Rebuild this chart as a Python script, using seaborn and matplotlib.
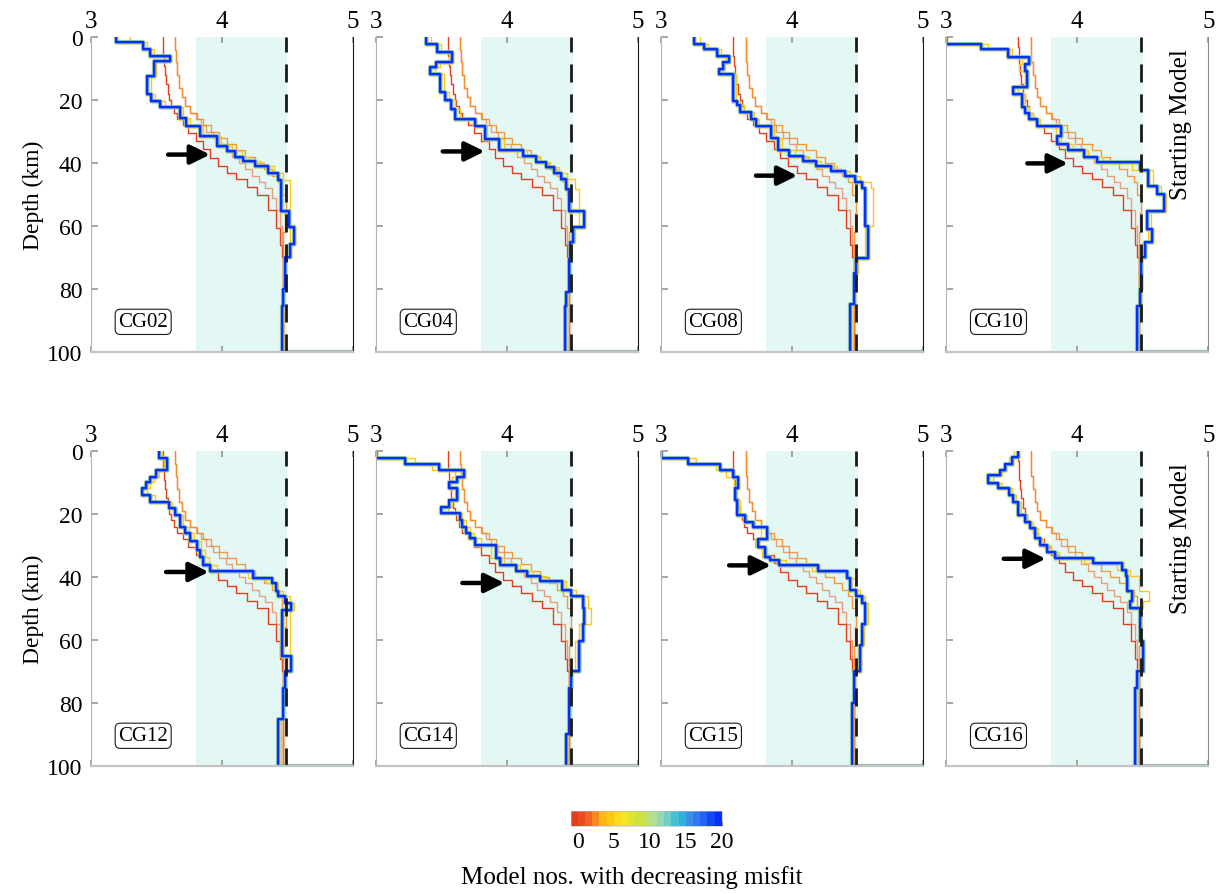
import numpy as np
import matplotlib
matplotlib.use("Agg")
import matplotlib.pyplot as plt
from matplotlib.colors import ListedColormap, BoundaryNorm
from matplotlib.cm import ScalarMappable
import seaborn as sns

# ---- data (depth of layer top in km, Vs in km/s) ----
stations = ["CG02", "CG04", "CG08", "CG10", "CG12", "CG14", "CG15", "CG16"]

# starting model and the first two iterations are the same for every station
start_top = [0, 3, 6, 9, 12, 15, 18, 20, 22, 24, 26, 28, 30.5, 33, 35.5, 38.5, 41, 43, 45, 47.5, 50, 55, 60.5, 66, 70]
start_vs = [3.55, 3.553, 3.558, 3.565, 3.575, 3.587, 3.60, 3.615, 3.635, 3.66, 3.70, 3.745, 3.80, 3.86, 3.91,
            3.97, 4.04, 4.11, 4.19, 4.27, 4.35, 4.41, 4.44, 4.46, 4.47]
iter1_top = [0, 4, 8, 12, 16, 19, 22, 24, 26, 28, 30, 32, 34, 36, 38, 40, 42, 44, 46, 48, 51, 55, 60, 66]
iter1_vs = [3.645, 3.65, 3.66, 3.675, 3.695, 3.72, 3.76, 3.80, 3.84, 3.88, 3.93, 3.98, 4.03, 4.08, 4.13, 4.18,
            4.23, 4.28, 4.33, 4.38, 4.41, 4.44, 4.46, 4.47]
iter2_top = [0, 4, 8, 12, 16, 19, 22, 24, 26, 28, 30, 32, 34, 36, 38, 40, 42, 44, 46, 50, 56, 62]
iter2_vs = [3.645, 3.65, 3.66, 3.675, 3.695, 3.72, 3.76, 3.81, 3.86, 3.92, 3.98, 4.04, 4.11, 4.18, 4.25, 4.32,
            4.38, 4.43, 4.46, 4.49, 4.48, 4.47]

cg02_top = [0, 1.4, 3.7, 5.8, 7.6, 12.2, 18.0, 20.2, 22.3, 25.8, 28.1, 31.5, 34.5, 36.3, 38.1, 39.5, 40.8, 43.0,
            45.5, 55.1, 60.4, 65.7, 70, 80, 85.4]
cg02_final = [3.19, 3.40, 3.45, 3.605, 3.48, 3.43, 3.46, 3.53, 3.68, 3.73, 3.83, 3.96, 4.04, 4.10, 4.165, 4.25,
              4.35, 4.43, 4.45, 4.51, 4.55, 4.52, 4.48, 4.47, 4.46]
cg02_mid = [3.30, 3.43, 3.48, 3.57, 3.50, 3.46, 3.49, 3.57, 3.70, 3.76, 3.86, 3.99, 4.08, 4.15, 4.21, 4.30,
            4.40, 4.47, 4.52, 4.49, 4.52, 4.50, 4.48, 4.47, 4.47]

cg04_top = [0, 2.1, 4.8, 8.0, 9.5, 11.7, 17.5, 19.9, 22.8, 26.0, 28.1, 32.3, 36.0, 37.6, 39.8, 41.4, 43.0, 45.0,
            48.2, 55.1, 60.4, 65.2, 70.5, 81, 85.4]
cg04_final = [3.38, 3.47, 3.58, 3.46, 3.415, 3.49, 3.53, 3.57, 3.605, 3.76, 3.83, 3.94, 4.12, 4.22, 4.30, 4.36,
              4.41, 4.45, 4.47, 4.59, 4.50, 4.48, 4.47, 4.45, 4.44]
cg04_mid = [3.42, 3.50, 3.56, 3.49, 3.45, 3.52, 3.56, 3.60, 3.64, 3.74, 3.85, 3.98, 4.15, 4.25, 4.33, 4.40,
            4.46, 4.52, 4.55, 4.55, 4.52, 4.49, 4.47, 4.46, 4.45]

cg08_top = [0, 2, 3.7, 5.8, 8, 10, 11.7, 20.1, 21.5, 23.9, 26, 28.1, 32, 36, 37.6, 39.2, 40.8, 42.4, 44, 46, 48,
            60, 70.2, 75, 84.8]
cg08_final = [3.25, 3.33, 3.43, 3.52, 3.47, 3.445, 3.55, 3.58, 3.60, 3.69, 3.725, 3.84, 3.89, 3.98, 4.08, 4.18,
              4.30, 4.40, 4.48, 4.53, 4.56, 4.58, 4.49, 4.47, 4.44]
cg08_mid = [3.30, 3.36, 3.46, 3.50, 3.49, 3.48, 3.57, 3.60, 3.63, 3.71, 3.75, 3.86, 3.92, 4.02, 4.12, 4.22,
            4.34, 4.44, 4.52, 4.60, 4.62, 4.56, 4.50, 4.47, 4.45]

cg10_top = [0, 2.1, 3.7, 6.4, 8.5, 10.6, 15.9, 18, 22.3, 24, 26, 28.1, 31.5, 34, 36, 38.1, 39.8, 42.1, 47.2,
            49.8, 55.1, 61, 65.2, 70, 80, 85.4]
cg10_final = [3.0, 3.27, 3.47, 3.63, 3.60, 3.62, 3.51, 3.58, 3.60, 3.63, 3.69, 3.88, 3.85, 3.93, 4.05, 4.15,
              4.48, 4.54, 4.61, 4.66, 4.53, 4.57, 4.52, 4.49, 4.48, 4.455]
cg10_mid = [3.0, 3.32, 3.50, 3.58, 3.56, 3.60, 3.55, 3.60, 3.63, 3.66, 3.72, 3.84, 3.88, 3.97, 4.08, 4.20,
            4.42, 4.58, 4.64, 4.68, 4.56, 4.54, 4.50, 4.49, 4.48, 4.46]

cg12_top = [0, 2.3, 6.0, 8.1, 9.7, 11.8, 13.9, 16.0, 18.2, 20.3, 24.0, 26.1, 28.7, 31.4, 33.5, 36.1, 38.2,
            40.3, 41.9, 44.6, 46.1, 48.3, 50.4, 65.2, 69.9, 75.2, 85.2]
cg12_final = [3.52, 3.58, 3.50, 3.45, 3.42, 3.39, 3.45, 3.60, 3.64, 3.68, 3.72, 3.76, 3.81, 3.83, 3.86, 3.91,
              4.24, 4.38, 4.41, 4.43, 4.48, 4.53, 4.46, 4.53, 4.48, 4.47, 4.43]
cg12_mid = [3.54, 3.56, 3.52, 3.48, 3.45, 3.43, 3.49, 3.62, 3.66, 3.70, 3.75, 3.79, 3.84, 3.87, 3.90, 3.96,
            4.20, 4.34, 4.43, 4.47, 4.52, 4.55, 4.52, 4.50, 4.49, 4.47, 4.45]

cg14_top = [0, 2.1, 3.9, 6.0, 8.1, 9.7, 11.8, 15.5, 17.6, 19.7, 21.9, 24.0, 26.1, 27.7, 29.8, 34.0, 36.1, 38.2,
            39.8, 41.4, 44.0, 46.1, 49.8, 55.1, 60.4, 69.9, 75.2, 90]
cg14_final = [3.0, 3.22, 3.48, 3.67, 3.62, 3.56, 3.62, 3.56, 3.50, 3.64, 3.66, 3.69, 3.72, 3.76, 3.92, 3.95,
              4.07, 4.15, 4.25, 4.42, 4.49, 4.58, 4.59, 4.58, 4.55, 4.49, 4.47, 4.45]
cg14_mid = [3.0, 3.30, 3.43, 3.60, 3.58, 3.55, 3.60, 3.58, 3.55, 3.66, 3.69, 3.72, 3.75, 3.80, 3.88, 3.98,
            4.10, 4.20, 4.30, 4.45, 4.53, 4.62, 4.64, 4.55, 4.52, 4.49, 4.47, 4.46]

cg15_top = [0, 2.1, 3.9, 6.0, 8.1, 11.8, 15.5, 20.3, 22.4, 24.0, 27.9, 30.3, 33.5, 34.6, 36.1, 38.2, 40.3, 44.0,
            46.1, 48.2, 55.1, 61.5, 69.9, 80]
cg15_final = [3.0, 3.21, 3.45, 3.55, 3.59, 3.565, 3.58, 3.64, 3.70, 3.81, 3.74, 3.79, 3.83, 3.90, 4.20, 4.42,
              4.44, 4.49, 4.53, 4.56, 4.53, 4.52, 4.47, 4.455]
cg15_mid = [3.0, 3.27, 3.42, 3.50, 3.56, 3.58, 3.60, 3.66, 3.72, 3.76, 3.72, 3.77, 3.85, 3.95, 4.15, 4.40,
            4.48, 4.52, 4.56, 4.58, 4.55, 4.50, 4.48, 4.46]

cg16_top = [0, 1.8, 3.9, 6.0, 7.6, 10.2, 11.8, 13.9, 16.0, 20.3, 22.4, 24.5, 27.7, 29.8, 31.9, 34.0, 35.6, 37.7,
            39.8, 44.6, 47.7, 49.8, 60.4, 69.9, 75.2]
cg16_final = [3.55, 3.50, 3.45, 3.41, 3.32, 3.40, 3.48, 3.51, 3.55, 3.60, 3.64, 3.68, 3.72, 3.77, 3.83, 4.12,
              4.34, 4.37, 4.38, 4.42, 4.40, 4.48, 4.50, 4.455, 4.44]
cg16_mid = [3.52, 3.48, 3.46, 3.43, 3.36, 3.43, 3.50, 3.53, 3.57, 3.62, 3.66, 3.70, 3.74, 3.80, 3.86, 4.05,
            4.30, 4.40, 4.47, 4.55, 4.50, 4.48, 4.50, 4.46, 4.45]

station_tops = [cg02_top, cg04_top, cg08_top, cg10_top, cg12_top, cg14_top, cg15_top, cg16_top]
station_final = [cg02_final, cg04_final, cg08_final, cg10_final, cg12_final, cg14_final, cg15_final, cg16_final]
station_mid = [cg02_mid, cg04_mid, cg08_mid, cg10_mid, cg12_mid, cg14_mid, cg15_mid, cg16_mid]

# arrows marking the Moho-like step
arrow_depth = [37.3, 36.3, 44.0, 40.1, 38.4, 41.9, 36.3, 34.2]
arrow_tail = [3.59, 3.51, 3.725, 3.62, 3.575, 3.66, 3.52, 3.44]
arrow_head = [3.91, 3.83, 4.04, 3.93, 3.90, 3.98, 3.84, 3.76]

band_lo, band_hi = 3.8, 4.5
ref_vs = 4.49
cbar_ticks = [0, 5, 10, 15, 20]
model_colors = ['#e43d1c', '#ec4a24', '#f06226', '#f58a1f', '#fab915', '#fcc816', '#fbd91b', '#f3e524',
                '#dee431', '#cde23e', '#c3e065', '#b4de94', '#95d6b4', '#72cfc8', '#45c0d2', '#2ab3d6',
                '#3a8fe6', '#3276f0', '#2563f5', '#1248f7', '#0a2ef5']


def staircase(tops, vels):
    """turn layer tops/velocities into a stepped depth profile"""
    bottoms = list(tops[1:]) + [100.0]
    xs, ys = [], []
    for t, b, v in zip(tops, bottoms, vels):
        xs += [v, v]
        ys += [t, b]
    # half-space line at the base
    xs.append(5.0)
    ys.append(100.0)
    return np.array(xs), np.array(ys)


def draw(ax, tops, vels, color, lw, alpha=1.0, z=2):
    xs, ys = staircase(tops, vels)
    sns.lineplot(x=xs, y=ys, sort=False, estimator=None, color=color, linewidth=lw,
                 alpha=alpha, ax=ax, legend=False, zorder=z)


sns.set_theme(style="white")
plt.rcParams['font.family'] = ['Liberation Serif', 'DejaVu Serif']
for key in ['text.color', 'axes.labelcolor', 'xtick.labelcolor', 'ytick.labelcolor']:
    plt.rcParams[key] = 'black'

fig = plt.figure(figsize=(12.21, 8.95), dpi=100)

ax_left = 0.0743
ax_w = 0.2148
col_step = 0.2335
row_bottoms = [0.6059, 0.1434]
ax_h = 0.3513

for i, name in enumerate(stations):
    row, col = divmod(i, 4)
    ax = fig.add_axes([ax_left + col * col_step, row_bottoms[row], ax_w, ax_h])

    ax.axvspan(band_lo, band_hi, color='#e3f8f5', zorder=0, lw=0)

    # early iterations
    draw(ax, start_top, start_vs, model_colors[0], 1.0)
    draw(ax, iter1_top, iter1_vs, model_colors[2], 1.0, alpha=0.6)
    draw(ax, iter2_top, iter2_vs, model_colors[3], 1.0, alpha=0.85)
    draw(ax, station_tops[i], station_mid[i], model_colors[5], 1.0)

    # converged models (later iterations pile up around the best model)
    for k, w, a in zip([6, 13, 16], [3.8, 3.0, 2.4], [0.5, 0.6, 0.7]):
        draw(ax, station_tops[i], station_final[i], model_colors[k], w, alpha=a, z=3)
    draw(ax, station_tops[i], station_final[i], model_colors[20], 1.6, z=3)

    ax.axvline(ref_vs, color='k', lw=2.0, ls=(0, (6.5, 4.3)), zorder=4)

    ax.annotate("", xy=(arrow_head[i], arrow_depth[i]), xytext=(arrow_tail[i], arrow_depth[i]),
                arrowprops=dict(arrowstyle="-|>,head_length=0.65,head_width=0.32", lw=3.2, color='black',
                                shrinkA=0, shrinkB=0, mutation_scale=18), zorder=5)

    ax.text(3.40, 90.5, name, ha='center', va='center', fontsize=15, zorder=6,
            bbox=dict(boxstyle='round,pad=0.15,rounding_size=0.25', fc='white', ec='k', lw=0.8))

    ax.set_xlim(3, 5)
    ax.set_ylim(100, 0)
    ax.set_xticks([3, 4, 5])
    ax.set_yticks([0, 20, 40, 60, 80, 100])
    ax.tick_params(axis='x', top=True, bottom=True, labeltop=True, labelbottom=False,
                   direction='in', length=4, color='#9a9a9a', labelsize=18, pad=4)
    ax.tick_params(axis='y', left=True, direction='in', length=5, color='#9a9a9a',
                   labelsize=17, pad=6, labelleft=(col == 0))
    ax.set_xlabel("")
    if col == 0:
        ax.set_ylabel("Depth (km)", fontsize=17, labelpad=2)
    else:
        ax.set_ylabel("")

    ax.spines['top'].set_visible(False)
    ax.spines['left'].set_color('#b4b4b4')
    ax.spines['left'].set_linewidth(0.8)
    ax.spines['bottom'].set_color('#c4c4c4')
    ax.spines['bottom'].set_linewidth(1.6)
    ax.spines['right'].set_color('k' if col < 3 else '#8a8a8a')
    ax.spines['right'].set_linewidth(0.8)
    for s in ax.spines.values():
        s.set_zorder(7)

    if col == 3:
        ax.text(4.79, 27.5, "Starting Model", rotation=90, ha='center', va='center', fontsize=18)

# colour bar of model numbers
cmap = ListedColormap(model_colors)
norm = BoundaryNorm(np.arange(-1, 21), cmap.N)
sm = ScalarMappable(norm=norm, cmap=cmap)
cax = fig.add_axes([0.4674, 0.0763, 0.1237, 0.0168])
cb = fig.colorbar(sm, cax=cax, orientation='horizontal', ticks=cbar_ticks)
cb.minorticks_off()
cb.ax.tick_params(which='major', direction='in', length=3, color='#333333', labelsize=17, pad=4)
cb.outline.set_linewidth(0.4)
cb.outline.set_edgecolor('#bbbbbb')
fig.text(0.517, 0.007, "Model nos. with decreasing misfit", ha='center', va='bottom', fontsize=18)

fig.savefig("out.png", dpi=100)
